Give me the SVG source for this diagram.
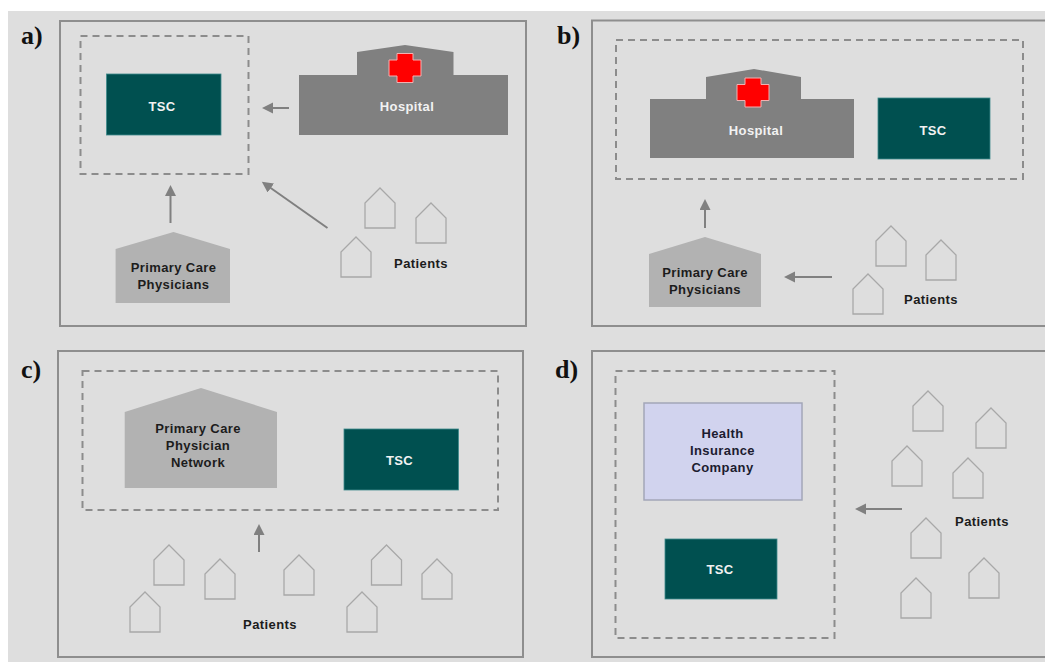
<svg xmlns="http://www.w3.org/2000/svg" width="1045" height="662" viewBox="0 0 1045 662">
<style>
.panel{fill:#dedede;stroke:#8e8e8e;stroke-width:2}
.dash{fill:none;stroke:#8c8c8c;stroke-width:2;stroke-dasharray:7 5}
.tsc{fill:#005050;stroke:#3f8a8c;stroke-width:.8}
.hosp{fill:#808080}
.cross{fill:#f00;stroke:#f3b0b0;stroke-width:1}
.pcp{fill:#b2b2b2}
.ins{fill:#d1d3ee;stroke:#a3a6b8;stroke-width:1.5}
.house{fill:none;stroke:#a8a8a8;stroke-width:1.3}
.conn{fill:none;stroke:#808080;stroke-width:2;marker-end:url(#arrow)}
text{font-family:"Liberation Sans",Arial,sans-serif;font-size:13px;font-weight:bold;text-anchor:middle;letter-spacing:.4px}
.w{fill:#f2f2f2}
.k{fill:#1c1c1c}
.n{fill:#1c1c30}
.lab{font-family:"Liberation Serif","Times New Roman",serif;font-size:26px;text-anchor:start;letter-spacing:0;fill:#111}
</style>
<defs>
<marker id="arrow" markerUnits="userSpaceOnUse" markerWidth="12" markerHeight="12" refX="1" refY="5.5" orient="auto"><path d="M11 5.500L0 0V11Z" fill="#808080"/></marker>
<polygon id="h" points="15,0 30,15 30,40 0,40 0,15"/>
<polygon id="c" points="-8,-14.500 8,-14.500 8,-8 16,-8 16,8 8,8 8,14.500 -8,14.500 -8,8 -16,8 -16,-8 -8,-8"/>
</defs>
<rect x="8" y="11" width="1037" height="651" fill="#dedede"/>

<g id="panel-a">
<rect class="panel" x="60" y="21" width="466" height="305"/>
<text class="lab" x="21" y="44">a)</text>
<rect class="dash" x="80.500" y="36" width="168" height="138"/>
<g id="a-tsc"><rect class="tsc" x="106.500" y="74" width="114.500" height="61"/><text class="w" x="162" y="110.500">TSC</text></g>
<g id="a-hospital"><polygon class="hosp" points="299,75 357,75 357,52 405,45 453.500,52 453.500,75 508,75 508,135 299,135"/><use class="cross" href="#c" x="405" y="68"/><text class="w" x="407" y="110.500">Hospital</text></g>
<g id="a-pcp"><polygon class="pcp" points="115.600,249 173.500,232 230,249 230,303 115.600,303"/><text class="k" x="173.500" y="272">Primary Care</text><text class="k" x="173.500" y="289">Physicians</text></g>
<g id="a-patients"><use class="house" href="#h" x="365" y="188"/><use class="house" href="#h" x="416" y="203"/><use class="house" href="#h" x="341" y="237"/><text class="k" x="421" y="268">Patients</text></g>
</g>

<g id="panel-b">
<rect class="panel" x="592" y="20.500" width="470" height="305.500"/>
<text class="lab" x="557" y="44">b)</text>
<rect class="dash" x="616" y="40" width="407" height="139"/>
<g id="b-hospital"><polygon class="hosp" points="650,99 706,99 706,77 754,69 801,77 801,99 854,99 854,158 650,158"/><use class="cross" href="#c" x="753" y="92.500"/><text class="w" x="756" y="134.500">Hospital</text></g>
<g id="b-tsc"><rect class="tsc" x="878" y="98" width="112" height="61"/><text class="w" x="933" y="134.500">TSC</text></g>
<g id="b-pcp"><polygon class="pcp" points="649,254 705,237 761,254 761,307 649,307"/><text class="k" x="705" y="277">Primary Care</text><text class="k" x="705" y="294">Physicians</text></g>
<g id="b-patients"><use class="house" href="#h" x="876" y="226"/><use class="house" href="#h" x="926" y="240"/><use class="house" href="#h" x="853" y="274"/><text class="k" x="931" y="304">Patients</text></g>
</g>

<g id="panel-c">
<rect class="panel" x="58" y="351" width="465" height="306"/>
<text class="lab" x="21" y="378">c)</text>
<rect class="dash" x="82.500" y="371" width="415.500" height="139"/>
<g id="c-pcp"><polygon class="pcp" points="124.700,412 201,388 277,412 277,488 124.700,488"/><text class="k" x="198" y="433">Primary Care</text><text class="k" x="198" y="450">Physician</text><text class="k" x="198" y="467">Network</text></g>
<g id="c-tsc"><rect class="tsc" x="344" y="429" width="114.500" height="61"/><text class="w" x="399.500" y="464.500">TSC</text></g>
<g id="c-patients"><use class="house" href="#h" x="154" y="545"/><use class="house" href="#h" x="205" y="559"/><use class="house" href="#h" x="284" y="555"/><use class="house" href="#h" x="371.500" y="545"/><use class="house" href="#h" x="422" y="559"/><use class="house" href="#h" x="130" y="592"/><use class="house" href="#h" x="347" y="592"/><text class="k" x="270" y="629">Patients</text></g>
</g>

<g id="panel-d">
<rect class="panel" x="592" y="351" width="470" height="306"/>
<text class="lab" x="555" y="378">d)</text>
<rect class="dash" x="615.500" y="371" width="219" height="267"/>
<g id="d-insurance"><rect class="ins" x="644" y="403" width="158" height="97"/><text class="n" x="722.500" y="438">Health</text><text class="n" x="722.500" y="455">Insurance</text><text class="n" x="722.500" y="472">Company</text></g>
<g id="d-tsc"><rect class="tsc" x="665" y="539" width="112" height="60"/><text class="w" x="720" y="573.500">TSC</text></g>
<g id="d-patients"><use class="house" href="#h" x="913" y="391"/><use class="house" href="#h" x="976" y="408"/><use class="house" href="#h" x="892" y="446"/><use class="house" href="#h" x="953" y="458"/><use class="house" href="#h" x="911" y="518"/><use class="house" href="#h" x="969" y="558"/><use class="house" href="#h" x="901" y="578"/><text class="k" x="982" y="526">Patients</text></g>
</g>

<g id="connectors">
<path class="conn" d="M289 108H272"/>
<path class="conn" d="M170.500 223V195"/>
<path class="conn" d="M327.500 228L270 187.500"/>
<path class="conn" d="M705 228V209"/>
<path class="conn" d="M832 277H794"/>
<path class="conn" d="M259 552V534"/>
<path class="conn" d="M902 509H865"/>
</g>
</svg>
